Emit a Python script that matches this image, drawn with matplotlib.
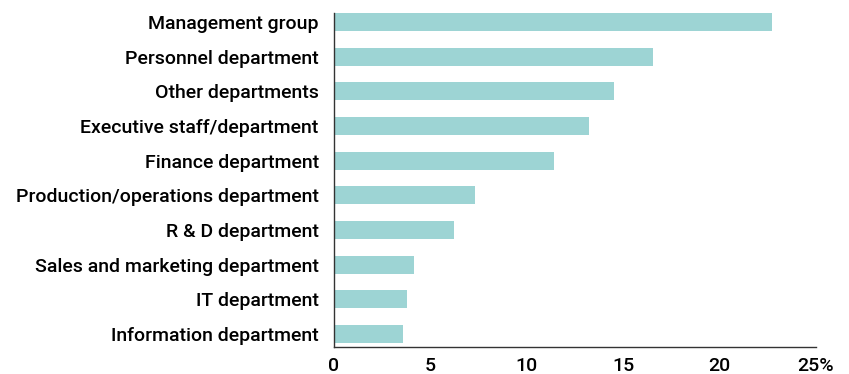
import matplotlib
matplotlib.use("Agg")
import matplotlib.pyplot as plt
import numpy as np

categories = ["Management group", "Personnel department", "Other departments",
              "Executive staff/department", "Finance department",
              "Production/operations department", "R & D department",
              "Sales and marketing department", "IT department",
              "Information department"]
values = [22.7, 16.55, 14.5, 13.25, 11.4, 7.3, 6.2, 4.15, 3.8, 3.6]
xticks = [0, 5, 10, 15, 20, 25]
xticklabels = ["0", "5", "10", "15", "20", "25%"]

plt.rcParams['font.family'] = ['Roboto', 'DejaVu Sans']

fig = plt.figure(figsize=(8.49, 3.74), dpi=100)
ax = fig.add_axes([334/849, 1-347/374, (816-334)/849, (347-13)/374])

y = np.arange(len(categories))
ax.barh(y, values, height=0.52, color="#9dd4d4")
ax.set_ylim(9.38, -0.26)
ax.set_xlim(0, 25)
ax.set_yticks(y)
ax.set_yticklabels(categories, fontsize=14, fontweight='medium')
ax.set_xticks(xticks)
ax.set_xticklabels(xticklabels, fontsize=14, fontweight='medium')
ax.tick_params(axis='y', length=0, pad=11)
ax.tick_params(axis='x', length=0, pad=7)
for s in ['top', 'right']:
    ax.spines[s].set_visible(False)
for s in ['left', 'bottom']:
    ax.spines[s].set_color('#333333')
    ax.spines[s].set_linewidth(1.0)

fig.savefig("out.png", dpi=100)
